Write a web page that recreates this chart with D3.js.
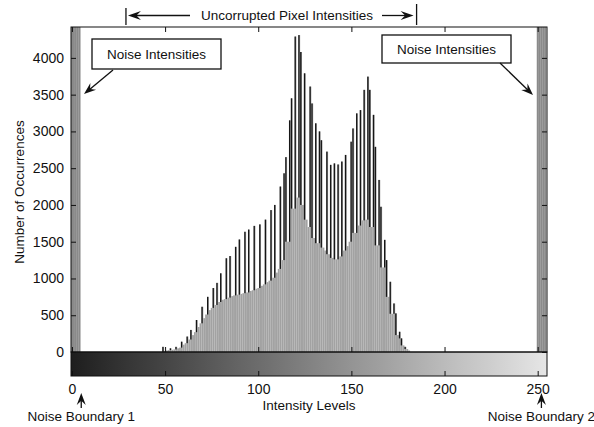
<!DOCTYPE html>
<html>
<head>
<meta charset="utf-8">
<script src="https://cdn.jsdelivr.net/npm/d3@7"></script>
<style>
body { margin: 0; background: #fff; }
svg { display: block; font-family: "Liberation Sans", Arial, sans-serif; }
</style>
</head>
<body>
<svg id="chart" width="594" height="427"></svg>
<script>
// histogram counts, one per intensity level starting at firstLevel
var firstLevel = 48
var counts = [
  0, 70, 15, 20, 25, 50, 30, 35, 70, 50,
  60, 140, 100, 120, 210, 170, 300, 230, 270, 435,
  340, 390, 615, 460, 510, 750, 570, 600, 870, 640,
  940, 680, 1070, 710, 720, 1275, 740, 1305, 760, 770,
  1430, 780, 1530, 790, 800, 1635, 810, 1665, 830, 840,
  1715, 860, 870, 1735, 900, 920, 1800, 950, 970, 1930,
  1010, 2000, 1080, 1130, 2250, 1250, 2430, 2650, 1500, 3150,
  3450, 1950, 4290, 2100, 4310, 4080, 2000, 3790, 1800, 1700,
  3610, 3380, 1550, 3110, 1480, 3000, 2880, 1420, 1380, 2725,
  1330, 2545, 1280, 2565, 1260, 2550, 1300, 2590, 1380, 2680,
  1440, 1500, 2860, 3040, 1620, 3245, 1720, 3290, 1790, 3565,
  1800, 3745, 3565, 1700, 3225, 2790, 1450, 2340, 1975, 1150,
  1525, 1250, 750, 955, 520, 660, 525, 230, 275, 185,
  90, 70, 40, 20, 0
]
// salt & pepper noise levels (counts run far off the top of the axes)
var noiseLow = [0, 1, 2, 3, 4]
var noiseHigh = [250, 251, 252, 253, 254]
var noiseCount = 30000

var xTicks = [0, 50, 100, 150, 200, 250]
var yTicks = [0, 500, 1000, 1500, 2000, 2500, 3000, 3500, 4000]
var uncorrupted = [29, 185]
var boundaries = [
  {level: 5, label: "Noise Boundary 1"},
  {level: 252, label: "Noise Boundary 2"}
]

var svg = d3.select("#chart")
var margin = {left: 71, right: 47, top: 27, bottom: 75}
var width = 594, height = 427
var base = height - margin.bottom       // y of zero line
var barH = 24                            // colour bar height

var x = d3.scaleLinear().domain([-0.5, 255]).range([margin.left, width - margin.right])
var y = d3.scaleLinear().domain([0, 4420]).range([base, margin.top])
var bw = x(1) - x(0)

var bins = counts.map((c, i) => ({level: firstLevel + i, count: c}))
var noise = noiseLow.concat(noiseHigh).map(l => ({level: l, count: noiseCount}))

function neighbourMin(i) {
  return Math.min(i > 0 ? counts[i - 1] : 0, i < counts.length - 1 ? counts[i + 1] : 0)
}

svg.append("clipPath").attr("id", "plot")
  .append("rect")
    .attr("x", margin.left).attr("y", margin.top)
    .attr("width", width - margin.right - margin.left)
    .attr("height", base - margin.top)

var plot = svg.append("g").attr("clip-path", "url(#plot)")

// noise strips
plot.append("g")
    .attr("fill", "#8a8a8a")
  .selectAll("rect")
  .data(noise)
  .enter().append("rect")
    .attr("x", d => x(d.level - 0.5))
    .attr("width", bw + 0.2)
    .attr("y", d => y(d.count))
    .attr("height", d => base - y(d.count))

// histogram bars
plot.append("g")
    .attr("fill", "#a2a2a2")
  .selectAll("rect")
  .data(bins)
  .enter().append("rect")
    .attr("x", d => x(d.level - 0.5))
    .attr("width", bw)
    .attr("y", d => y(d.count))
    .attr("height", d => base - y(d.count))

// dark edge on the part of each spike that stands above its neighbours
plot.append("g")
    .attr("fill", "#161616")
  .selectAll("rect")
  .data(bins.filter((d, i) => d.count > neighbourMin(i) * 1.1 + 20))
  .enter().append("rect")
    .attr("x", d => x(d.level - 0.5))
    .attr("width", 1.3)
    .attr("y", d => y(d.count))
    .attr("height", d => y(neighbourMin(d.level - firstLevel)) - y(d.count))

// grayscale colour bar
var grey = d3.scaleLinear().domain([0, 255]).range(["#1e1e1e", "#e6e6e6"])
var grad = svg.append("defs").append("linearGradient").attr("id", "greys")
grad.selectAll("stop")
  .data(d3.range(0, 256, 15))
  .enter().append("stop")
    .attr("offset", d => (x(d) - margin.left) / (width - margin.right - margin.left))
    .attr("stop-color", d => grey(d))
svg.append("rect")
    .attr("x", margin.left).attr("y", base)
    .attr("width", width - margin.right - margin.left)
    .attr("height", barH)
    .attr("fill", "url(#greys)")
    .attr("stroke", "#111")

// frame
svg.append("rect")
    .attr("x", margin.left).attr("y", margin.top)
    .attr("width", width - margin.right - margin.left)
    .attr("height", base - margin.top)
    .attr("fill", "none")
    .attr("stroke", "#111")

// axes
var tickFont = g => g.selectAll("text")
    .attr("font-size", "14px")
    .attr("font-family", "'Liberation Sans', Arial, sans-serif")
    .attr("fill", "#111")
var clean = g => g.call(g => g.select(".domain").remove())
    .call(g => g.selectAll("line").attr("stroke", "#111"))

svg.append("g")
    .attr("transform", `translate(${margin.left},0)`)
    .call(d3.axisLeft(y).tickValues(yTicks).tickSize(-5).tickPadding(7).tickFormat(d3.format("d")))
    .call(clean).call(tickFont)
svg.append("g")
    .attr("transform", `translate(${width - margin.right},0)`)
    .call(d3.axisRight(y).tickValues(yTicks).tickSize(-5).tickFormat(""))
    .call(clean)
svg.append("g")
    .attr("transform", `translate(0,${margin.top})`)
    .call(d3.axisTop(x).tickValues(xTicks).tickSize(-5).tickFormat(""))
    .call(clean)
svg.append("g")
    .attr("transform", `translate(0,${base})`)
    .call(d3.axisBottom(x).tickValues(xTicks).tickSize(-5).tickFormat(""))
    .call(clean)
svg.append("g")
    .attr("transform", `translate(0,${base + barH})`)
    .call(d3.axisBottom(x).tickValues(xTicks).tickSize(-5).tickPadding(8).tickFormat(d3.format("d")))
    .call(clean).call(tickFont)

// axis titles
svg.append("text")
    .attr("x", 309).attr("y", 410)
    .attr("text-anchor", "middle")
    .attr("font-size", "13.5px")
    .attr("fill", "#111")
    .text("Intensity Levels")
svg.append("text")
    .attr("transform", "translate(24,192) rotate(-90)")
    .attr("text-anchor", "middle")
    .attr("font-size", "13.5px")
    .attr("fill", "#111")
    .text("Number of Occurrences")

// arrows
function arrow(g, x1, y1, x2, y2, len, wid) {
  var a = Math.atan2(y2 - y1, x2 - x1), c = Math.cos(a), s = Math.sin(a)
  g.append("line")
      .attr("x1", x1).attr("y1", y1)
      .attr("x2", x2 - c * len * 0.6).attr("y2", y2 - s * len * 0.6)
      .attr("stroke", "#111").attr("stroke-width", 1.3)
  var p = [
    [x2, y2],
    [x2 - c * len - s * wid, y2 - s * len + c * wid],
    [x2 - c * len * 0.65, y2 - s * len * 0.65],
    [x2 - c * len + s * wid, y2 - s * len - c * wid]
  ]
  g.append("path").attr("d", "M" + p.join("L") + "Z").attr("fill", "#111")
}

var notes = svg.append("g")

// uncorrupted range
notes.append("text")
    .attr("x", 287).attr("y", 20)
    .attr("text-anchor", "middle")
    .attr("font-size", "13.5px")
    .attr("fill", "#111")
    .text("Uncorrupted Pixel Intensities")
notes.append("line")
    .attr("x1", x(uncorrupted[0])).attr("x2", x(uncorrupted[0]))
    .attr("y1", 8).attr("y2", 25)
    .attr("stroke", "#111").attr("stroke-width", 1.3)
notes.append("line")
    .attr("x1", x(uncorrupted[1])).attr("x2", x(uncorrupted[1]))
    .attr("y1", 4).attr("y2", 25)
    .attr("stroke", "#111").attr("stroke-width", 1.3)
arrow(notes, 190, 15.5, x(uncorrupted[0]) + 2, 15.5, 13, 4.5)
arrow(notes, 382, 15.5, x(uncorrupted[1]) - 3, 15.5, 13, 4.5)

// noise intensity boxes
var boxes = [
  {x: 92, y: 39, w: 129, h: 30, ax1: 113, ay1: 70, ax2: 84, ay2: 94},
  {x: 382, y: 35, w: 129, h: 28, ax1: 500, ay1: 63, ax2: 533, ay2: 95}
]
boxes.forEach(b => {
  notes.append("rect")
      .attr("x", b.x).attr("y", b.y)
      .attr("width", b.w).attr("height", b.h)
      .attr("fill", "#fff").attr("stroke", "#111").attr("stroke-width", 1.3)
  notes.append("text")
      .attr("x", b.x + b.w / 2).attr("y", b.y + b.h / 2 + 5)
      .attr("text-anchor", "middle")
      .attr("font-size", "13.5px")
      .attr("fill", "#111")
      .text("Noise Intensities")
  arrow(notes, b.ax1, b.ay1, b.ax2, b.ay2, 12, 4.5)
})

// noise boundaries
boundaries.forEach(b => {
  var bx = x(b.level)
  arrow(notes, bx, 408, bx, 393, 12, 4.5)
  notes.append("text")
      .attr("x", bx).attr("y", 421)
      .attr("text-anchor", "middle")
      .attr("font-size", "13.5px")
      .attr("fill", "#111")
      .text(b.label)
})
</script>
</body>
</html>
